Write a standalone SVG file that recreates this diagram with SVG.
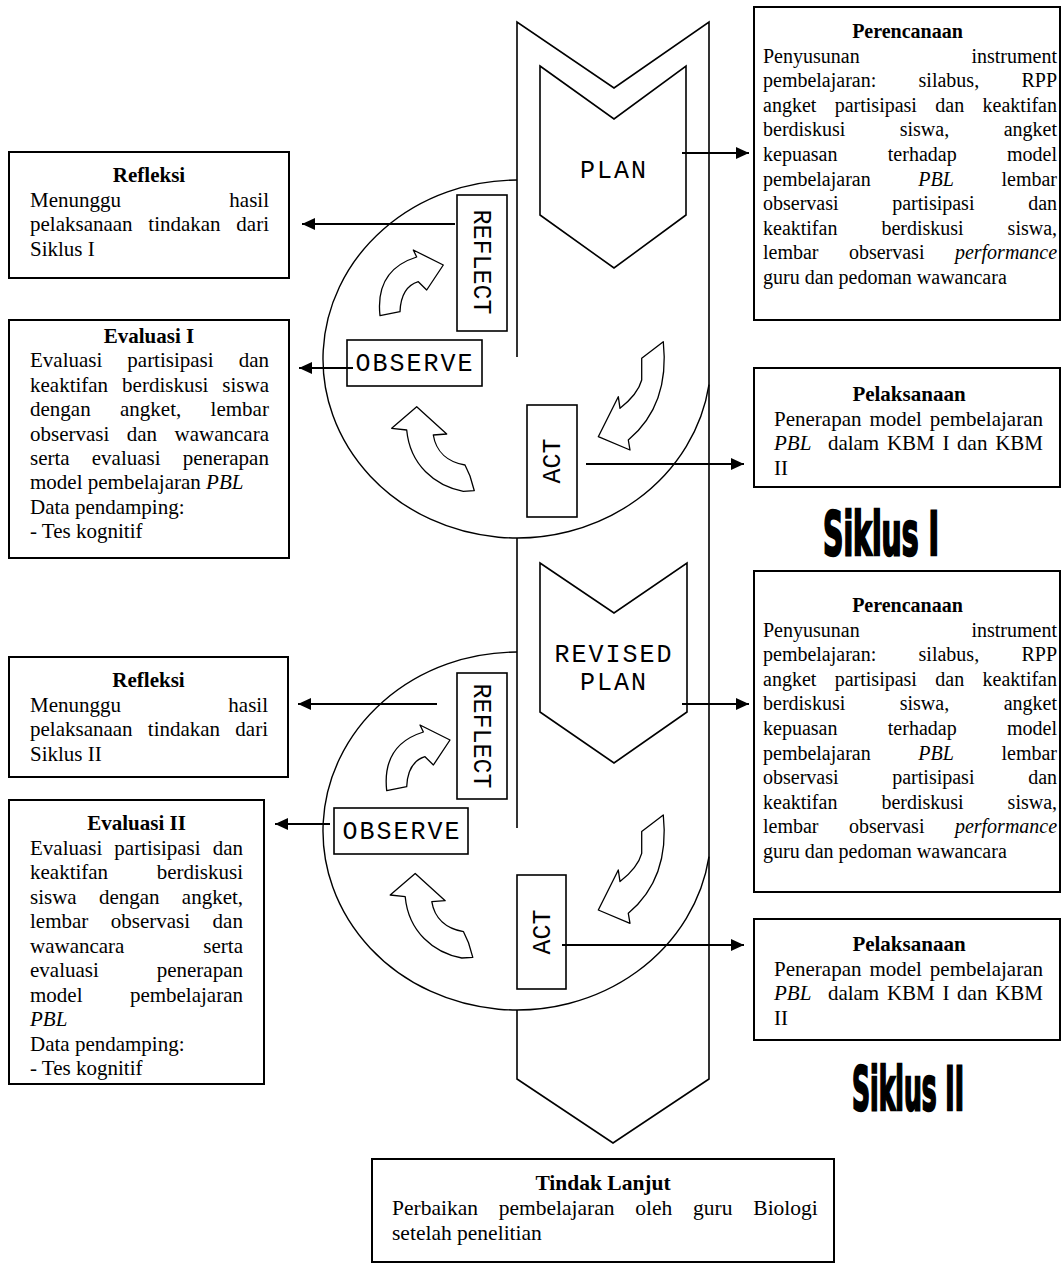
<svg xmlns="http://www.w3.org/2000/svg" width="1062" height="1263" viewBox="0 0 1062 1263">
<defs>
<style>
.box{fill:#fff;stroke:#000;stroke-width:2}
.t{font-family:"Liberation Serif","Times New Roman",serif;font-size:20px;fill:#000}
.t21{font-size:21px}
.t215{font-size:21.5px}
.h{font-weight:bold;text-anchor:middle}
.i{font-style:italic}
.e{text-anchor:end}
.m{font-family:"Liberation Mono","Courier New",monospace;font-size:25px;fill:#000;text-anchor:middle}
.sp{fill:none;stroke:#000;stroke-width:1.6}
.ci{fill:none;stroke:#000;stroke-width:1.4}
.lab{fill:#fff;stroke:#000;stroke-width:1.6}
.ca{fill:#fff;stroke:#000;stroke-width:1.3;stroke-linejoin:round}
.conn{stroke:#000;stroke-width:2;fill:none;marker-end:url(#ah)}
.sk{font-family:"Liberation Sans Narrow","DejaVu Sans Condensed",sans-serif;font-weight:bold;font-size:60px;fill:#000;stroke:#000;stroke-width:2.4}
</style>
<marker id="ah" markerUnits="userSpaceOnUse" markerWidth="14" markerHeight="12" refX="13" refY="6" orient="auto">
<path d="M0,0 L13,6 L0,12 Z" fill="#000"/>
</marker>
<path id="arrA" class="ca" d="M416.7,406.7 L446.7,434 L433.3,435 C436,452 448,462 465,465 L470,476 L474.3,490.7 L463.3,491.3 C435,486 410,465 406.7,430 L391.7,428.3 Z"/>
<path id="arrB" class="ca" d="M663.3,341.7 L641.7,358.3 L641.7,380 Q638,394 620,408.3 L618.3,396.7 L598.3,436.7 L630,450 L628.3,440 Q670,405 663.3,341.7 Z"/>
<path id="arrC" class="ca" d="M413.3,250 L443.3,265 L426.7,290 L418.3,281.7 Q401,287 400,311.7 L380,315.7 Q375,270 416.7,257 Z"/>
</defs>
<rect width="1062" height="1263" fill="#fff"/>

<g id="spiral">
<path class="sp" d="M517,357 L517,22 L614,88 L709,22 L709,1079 L613,1143 L517,1079 L517,1010"/>
<path class="sp" d="M517,538 L517,828"/>
<path class="ci" d="M517,180 A194,179 0 1 0 709,384.6"/>
<path class="ci" d="M517,652 A194,179 0 1 0 709,856.6"/>
</g>

<g id="plan">
<path class="sp" d="M540,66 L614,119 L686,66 L686,215 L614,268 L540,215 Z"/>
<text class="m" x="614" y="178" style="letter-spacing:2px">PLAN</text>
</g>
<g id="revised-plan">
<path class="sp" d="M540,563 L614,613 L687,563 L687,712 L614,763 L540,712 Z"/>
<text class="m" x="614" y="662" style="letter-spacing:2px">REVISED</text>
<text class="m" x="614" y="690" style="letter-spacing:2px">PLAN</text>
</g>

<g id="cycle1-arrows">
<use href="#arrA"/>
<use href="#arrB"/>
<use href="#arrC"/>
</g>
<g id="cycle2-arrows">
<use href="#arrA" transform="translate(-1.5,466.7)"/>
<use href="#arrB" transform="translate(0,473.3)"/>
<use href="#arrC" transform="translate(6.7,475)"/>
</g>

<g id="reflect1">
<rect class="lab" x="457" y="195" width="50" height="136"/>
<text class="m" transform="translate(482,262) rotate(90)" y="8">REFLECT</text>
</g>
<g id="observe1">
<rect class="lab" x="347" y="340" width="135" height="46"/>
<text class="m" x="415" y="371" style="letter-spacing:2px">OBSERVE</text>
</g>
<g id="act1">
<rect class="lab" x="527" y="405" width="50" height="112"/>
<text class="m" transform="translate(552,461) rotate(-90)" y="8">ACT</text>
</g>
<g id="reflect2">
<rect class="lab" x="457" y="673" width="50" height="126"/>
<text class="m" transform="translate(482,736) rotate(90)" y="8">REFLECT</text>
</g>
<g id="observe2">
<rect class="lab" x="334" y="808" width="134" height="46"/>
<text class="m" x="402" y="839" style="letter-spacing:2px">OBSERVE</text>
</g>
<g id="act2">
<rect class="lab" x="517" y="875" width="49" height="114"/>
<text class="m" transform="translate(542,932) rotate(-90)" y="8">ACT</text>
</g>

<g id="connectors">
<line class="conn" x1="682" y1="153" x2="749" y2="153"/>
<line class="conn" x1="455" y1="224" x2="302" y2="224"/>
<line class="conn" x1="353" y1="368" x2="299" y2="368"/>
<line class="conn" x1="586" y1="464" x2="744" y2="464"/>
<line class="conn" x1="682" y1="704" x2="749" y2="704"/>
<line class="conn" x1="437" y1="704" x2="298" y2="704"/>
<line class="conn" x1="330" y1="824" x2="275" y2="824"/>
<line class="conn" x1="562" y1="945" x2="744" y2="945"/>
</g>

<g id="perencanaan1">
<rect class="box" x="754" y="7" width="306" height="313"/>
<text class="t h" x="907.5" y="38">Perencanaan</text>
<text class="t" x="763" y="62.6">Penyusunan</text>
<text class="t e" x="1057" y="62.6">instrument</text>
<text class="t" x="763" y="87.2" style="word-spacing:37.3px">pembelajaran: silabus, RPP</text>
<text class="t" x="763" y="111.8" style="word-spacing:13.4px">angket partisipasi dan keaktifan</text>
<text class="t" x="763" y="136.4" style="word-spacing:49.5px">berdiskusi siswa, angket</text>
<text class="t" x="763" y="161" style="word-spacing:45.4px">kepuasan terhadap model</text>
<text class="t" x="763" y="185.6" style="word-spacing:42.6px">pembelajaran <tspan class="i">PBL</tspan> lembar</text>
<text class="t" x="763" y="210.2" style="word-spacing:48.7px">observasi partisipasi dan</text>
<text class="t" x="763" y="234.8" style="word-spacing:39px">keaktifan berdiskusi siswa,</text>
<text class="t" x="763" y="259.4" style="word-spacing:25.4px">lembar observasi <tspan class="i">performance</tspan></text>
<text class="t" x="763" y="284">guru dan pedoman wawancara</text>
</g>

<g id="pelaksanaan1">
<rect class="box" x="754" y="368" width="306" height="119"/>
<text class="t t21 h" x="909" y="401">Pelaksanaan</text>
<text class="t t21" x="774" y="425.5" style="word-spacing:2.7px">Penerapan model pembelajaran</text>
<text class="t t21 i" x="774" y="450">PBL</text>
<text class="t t21 e" x="1043" y="450" style="word-spacing:2.45px">dalam KBM I dan KBM</text>
<text class="t t21" x="774" y="474.5">II</text>
</g>

<text id="siklus1" class="sk" transform="translate(823,555) scale(0.5,1)" textLength="232" lengthAdjust="spacingAndGlyphs">Siklus I</text>

<g id="refleksi1">
<rect class="box" x="9" y="152" width="280" height="126"/>
<text class="t t21 h" x="149" y="182">Refleksi</text>
<text class="t t21" x="30" y="206.5">Menunggu</text>
<text class="t t21 e" x="269" y="206.5">hasil</text>
<text class="t t21" x="30" y="231" style="word-spacing:10.45px">pelaksanaan tindakan dari</text>
<text class="t t21" x="30" y="255.5">Siklus I</text>
</g>

<g id="evaluasi1">
<rect class="box" x="9" y="320" width="280" height="238"/>
<text class="t t21 h" x="149" y="343">Evaluasi I</text>
<text class="t t21" x="30" y="367.4" style="word-spacing:19.75px">Evaluasi partisipasi dan</text>
<text class="t t21" x="30" y="391.8" style="word-spacing:8.7px">keaktifan berdiskusi siswa</text>
<text class="t t21" x="30" y="416.2" style="word-spacing:24.1px">dengan angket, lembar</text>
<text class="t t21" x="30" y="440.6" style="word-spacing:12.2px">observasi dan wawancara</text>
<text class="t t21" x="30" y="465" style="word-spacing:16.85px">serta evaluasi penerapan</text>
<text class="t t21" x="30" y="489.4">model pembelajaran <tspan class="i">PBL</tspan></text>
<text class="t t21" x="30" y="513.8">Data pendamping:</text>
<text class="t t21" x="30" y="538.2">- Tes kognitif</text>
</g>

<g id="perencanaan2">
<rect class="box" x="754" y="571" width="306" height="321"/>
<text class="t h" x="907.5" y="612">Perencanaan</text>
<text class="t" x="763" y="636.6">Penyusunan</text>
<text class="t e" x="1057" y="636.6">instrument</text>
<text class="t" x="763" y="661.2" style="word-spacing:37.3px">pembelajaran: silabus, RPP</text>
<text class="t" x="763" y="685.8" style="word-spacing:13.4px">angket partisipasi dan keaktifan</text>
<text class="t" x="763" y="710.4" style="word-spacing:49.5px">berdiskusi siswa, angket</text>
<text class="t" x="763" y="735" style="word-spacing:45.4px">kepuasan terhadap model</text>
<text class="t" x="763" y="759.6" style="word-spacing:42.6px">pembelajaran <tspan class="i">PBL</tspan> lembar</text>
<text class="t" x="763" y="784.2" style="word-spacing:48.7px">observasi partisipasi dan</text>
<text class="t" x="763" y="808.8" style="word-spacing:39px">keaktifan berdiskusi siswa,</text>
<text class="t" x="763" y="833.4" style="word-spacing:25.4px">lembar observasi <tspan class="i">performance</tspan></text>
<text class="t" x="763" y="858">guru dan pedoman wawancara</text>
</g>

<g id="refleksi2">
<rect class="box" x="9" y="657" width="279" height="120"/>
<text class="t t21 h" x="148.5" y="687">Refleksi</text>
<text class="t t21" x="30" y="711.5">Menunggu</text>
<text class="t t21 e" x="268" y="711.5">hasil</text>
<text class="t t21" x="30" y="736" style="word-spacing:9.95px">pelaksanaan tindakan dari</text>
<text class="t t21" x="30" y="760.5">Siklus II</text>
</g>

<g id="evaluasi2">
<rect class="box" x="9" y="800" width="255" height="284"/>
<text class="t t21 h" x="136.5" y="830">Evaluasi II</text>
<text class="t t21" x="30" y="854.5" style="word-spacing:6.75px">Evaluasi partisipasi dan</text>
<text class="t t21" x="30" y="879">keaktifan</text>
<text class="t t21 e" x="243" y="879">berdiskusi</text>
<text class="t t21" x="30" y="903.5" style="word-spacing:17px">siswa dengan angket,</text>
<text class="t t21" x="30" y="928" style="word-spacing:17.25px">lembar observasi dan</text>
<text class="t t21" x="30" y="952.5">wawancara</text>
<text class="t t21 e" x="243" y="952.5">serta</text>
<text class="t t21" x="30" y="977">evaluasi</text>
<text class="t t21 e" x="243" y="977">penerapan</text>
<text class="t t21" x="30" y="1001.5">model</text>
<text class="t t21 e" x="243" y="1001.5">pembelajaran</text>
<text class="t t21 i" x="30" y="1026">PBL</text>
<text class="t t21" x="30" y="1050.5">Data pendamping:</text>
<text class="t t21" x="30" y="1075">- Tes kognitif</text>
</g>

<g id="pelaksanaan2">
<rect class="box" x="754" y="919" width="306" height="121"/>
<text class="t t21 h" x="909" y="951">Pelaksanaan</text>
<text class="t t21" x="774" y="975.5" style="word-spacing:2.7px">Penerapan model pembelajaran</text>
<text class="t t21 i" x="774" y="1000">PBL</text>
<text class="t t21 e" x="1043" y="1000" style="word-spacing:2.45px">dalam KBM I dan KBM</text>
<text class="t t21" x="774" y="1024.5">II</text>
</g>

<text id="siklus2" class="sk" transform="translate(852,1110) scale(0.5,1)" textLength="224" lengthAdjust="spacingAndGlyphs">Siklus II</text>

<g id="tindak-lanjut">
<rect class="box" x="372" y="1159" width="462" height="103"/>
<text class="t t215 h" x="603" y="1190">Tindak Lanjut</text>
<text class="t t215" x="392" y="1215" style="word-spacing:15.4px">Perbaikan pembelajaran oleh guru Biologi</text>
<text class="t t215" x="392" y="1239.5">setelah penelitian</text>
</g>
</svg>
